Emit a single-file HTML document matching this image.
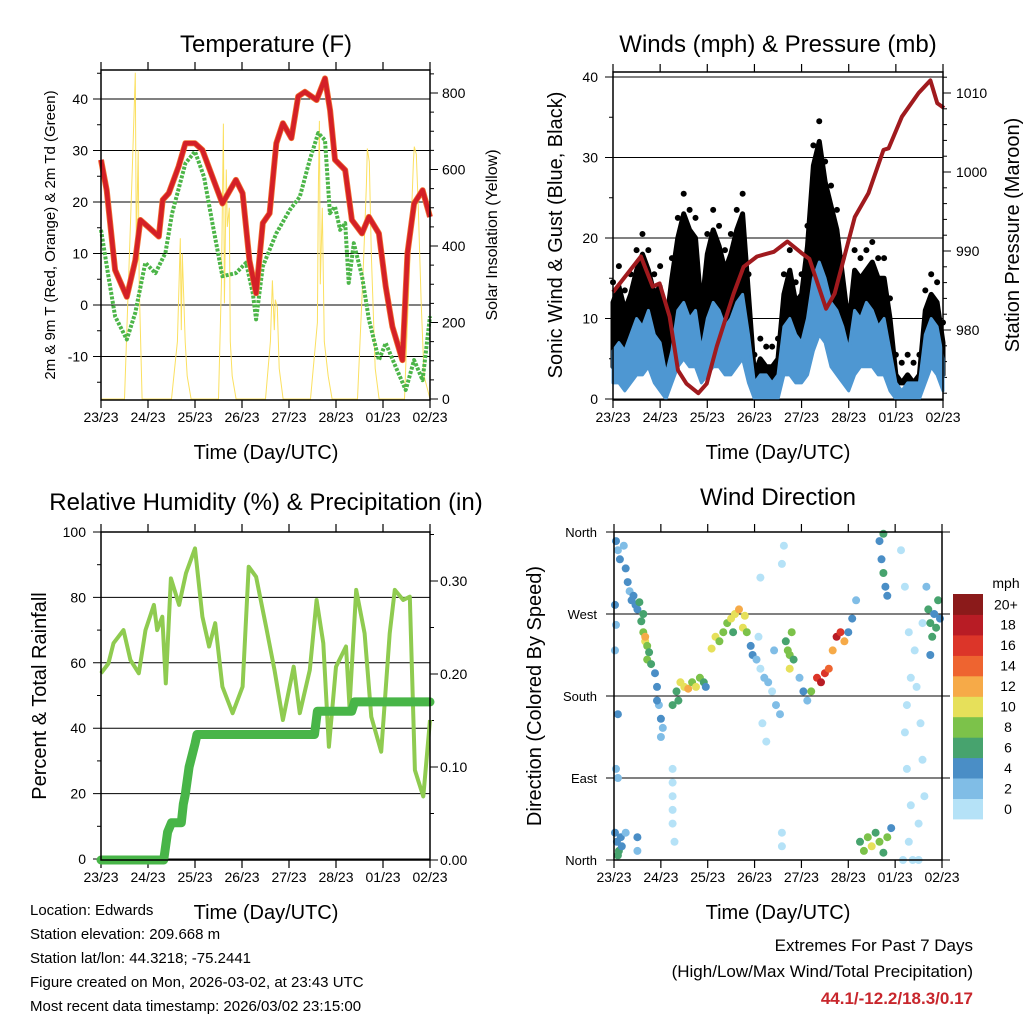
<!DOCTYPE html>
<html><head><meta charset="utf-8"><style>
body{margin:0;background:#fff}
svg text{font-family:"Liberation Sans",sans-serif;fill:#000}
</style></head><body>
<svg id="c" width="1024" height="1024" viewBox="0 0 1024 1024" xmlns="http://www.w3.org/2000/svg"></svg>
<script>
// ===== DATA =====
const dayLabels=["23/23","24/23","25/23","26/23","27/23","28/23","01/23","02/23"];
// Temperature (hour, F)
const tTimes=[0,2.9,7.2,13.2,17.5,20.1,24,29.5,31.5,34.6,39.6,43.1,48,51.8,56.9,62,68.9,72.3,75.8,79.2,82.6,86.1,89.5,92.9,97.2,100.7,104.1,110.1,114.4,117,119.5,124.7,128.1,133.3,136.8,141.9,145.4,148.8,153.9,156.5,159.9,164.2,168];
const tempF=[28.2,22.3,6.8,1.6,8.7,16.5,15.2,13.3,20.4,21.7,26.9,31.4,31.4,30.1,24.9,19.7,24.3,21.7,8.7,2.3,15.9,17.8,31.4,35.3,32.4,40.5,41.4,39.8,44,37.8,28.2,26.2,16.5,13.9,17.1,13.9,3.6,-4.2,-10.7,10.1,19.7,22.3,17.1];
const tdTimes=[0,3.8,7.2,13.2,17.5,22.6,27.8,32.9,36.3,43.1,48,52.6,56.9,62,68.9,74.1,77.5,79.2,82.6,89.5,96.3,101.5,106.6,110.9,114.4,116.9,119.5,122.1,124.7,126.5,129.1,133.3,136.8,141.9,145.4,150.5,155.6,159.9,164.2,168];
const tdF=[14.6,5.6,-2.2,-6.7,-1.5,8.2,6.2,10.1,17.8,27.5,29.8,24.9,15.9,5.6,6.2,8.2,2.3,-2.8,7.5,13.9,18.4,21,28.2,33.4,32,17.8,19.1,14.6,15.9,4.3,12,5.6,-2.8,-10.7,-7.4,-12,-16.5,-10.7,-14.6,-2.2];
const solTimes=[0,12,14,16,17.5,18,19,19.5,21,24,36,39,40.5,41,41.5,43,44,46,60,61.5,62.5,63,64,64.5,65.5,66,67,69,84,86.5,87.5,88.5,89,90,91,93,107,110.5,111,111.5,112,113,114,116,118,131,134,135.5,136,137,138,140,142,155,158,159.5,160,161,162,163.5,165,168];
const solar=[0,0,300,600,853,400,650,300,0,0,0,150,420,180,380,150,60,0,0,300,720,250,600,450,500,150,60,0,0,150,310,180,260,240,80,0,0,200,560,727,300,500,150,60,0,0,350,560,655,620,380,80,0,0,400,620,660,640,500,250,60,0];
// Winds (3-hourly, mph)
const windLo=[2,2,1,2,3,3,4,2, 1,0,2,4,5,4,4,2, 3,4,4,3,3,4,5,2, 0,0,0,0,0,3,3,2, 2,3,6,8,7,4,3,2, 1,3,4,4,4,3,3,1, 0,0,0,0,0,2,4,3,1];
const windHi=[6,7,6,8,10,9,11,8, 7,3,6,11,12,10,11,6, 10,12,11,9,10,12,13,8, 2,3,3,2,3,9,10,8, 7,10,15,17,15,12,11,9, 6,11,10,12,11,9,10,6, 2,1,2,2,2,8,10,9,5];
const gust=[13,15,12,14,17,19,17,14, 15,10,16,21,24,22,21,12, 19,22,20,17,19,22,24,14, 4,6,5,5,6,14,17,13, 14,20,30,33,28,25,22,16, 10,17,16,17,18,16,16,11, 4,3,4,3,4,12,14,13,8];
const pTimes=[0,14.2,20.2,23.7,28.8,33.1,37.4,43.4,47.7,52.8,61.4,66.5,73.3,81.9,88.8,95.7,100,108.5,112.8,123.1,130,137.7,140.3,147.1,155.6,161.6,165.1,168.5];
const pressure=[984.8,989.3,985.5,985.9,981.7,974.9,973.2,972,973.2,977.9,984.6,988,989.3,989.9,991.2,989.8,989,982.7,984.6,994.3,997.3,1002.8,1003,1007,1010,1011.6,1008.7,1008.1];
// RH & precip
const rhTimes=[0,3.8,6.4,11.5,15,19.3,22.7,27,28.7,31.3,33.1,35.7,39.9,43.4,48,51.8,55.2,58.3,62,67.2,72.3,75.4,79.2,84.3,88.6,92.9,98.4,101.5,106.6,110.1,113.5,116.4,120,125.1,126.9,130.3,134.6,138,143.1,147.4,150,154.3,157.7,160.3,164.6,168];
const rh=[56.8,59.8,66,70,60.9,56.8,70,77.7,70,74.1,53.7,85.8,77.7,87.4,95,74.1,65,72.1,52.7,44.6,52.7,89.4,86.3,71,57.8,42.5,58.8,44.6,57.8,79.2,66,34.3,58.8,65,46.6,82.3,69,43.5,32.8,69,82.3,79.2,80.2,27.2,19.1,42.5];
const prTimes=[0,32,34,36,41,42,43,45,48,49,109,110.5,128,129.5,168];
const precip=[0,0,0.03,0.04,0.04,0.06,0.07,0.10,0.125,0.135,0.135,0.16,0.16,0.17,0.17];
// Wind direction [hour, degrees, speed]
const dirObs=[[1,350,4],[2,340,3],[3,330,4],[5,345,3],[6,320,4],[7,305,4],[8,295,3],[9,285,4],[10,290,5],[11,280,4],[12,275,4],[13,283,6],[0.5,280,4],[1,258,3],[0.5,230,3],[2,160,4],[1,100,2],[2,90,3],
[0.5,30,4],[1.5,20,5],[2.5,10,6],[3.5,25,4],[2,5,6],[4,15,5],[6,30,3],[12,25,4],[12,10,3],
[14,262,7],[15,250,8],[16,240,10],[17,235,8],[18,228,7],[17,220,9],[19,215,6],[16,245,12],[15,270,6],
[21,205,4],[22,190,4],[23,170,3],[24,155,4],[25,145,2],[22,175,5],[24,135,3],
[30,85,1],[30,70,1],[30,55,1],[30,40,1],[31,20,1],[30,100,1],
[30,170,6],[32,185,6],[34,195,11],[36,190,10],[38,188,12],[40,195,9],[42,190,11],[44,200,8],[46,195,6],[47,190,4],[33,175,6],
[50,232,10],[52,245,11],[54,240,9],[56,250,8],[58,260,9],[60,265,11],[62,270,10],[64,275,12],[66,255,11],[68,250,8],[67,268,10],[61,250,6],[70,235,4],[71,225,4],
[73,220,2],[75,210,1],[77,200,2],[79,195,3],[81,185,1],[83,170,2],[85,160,3],[76,150,1],[78,130,1],[74,245,1],[75,310,1],[86,325,1],[87,345,1],[86,30,1],[86,15,1],[82,230,3],
[88,240,7],[89,230,8],[90,225,9],[90,210,10],[91,250,8],[92,220,6],
[95,200,3],[97,185,4],[99,175,2],[101,185,9],[104,200,16],[106,195,18],[108,205,17],[110,210,15],
[112,230,13],[114,245,18],[116,250,16],[118,240,12],[120,250,4],[122,265,4],[124,285,2],
[126,20,7],[128,10,9],[130,25,8],[132,15,10],[134,30,7],[136,20,9],[138,8,6],[140,25,8],[142,35,4],
[136,350,4],[137,330,5],[138,315,6],[139,300,5],[140,290,4],[138,358,6],
[147,340,1],[149,300,1],[151,250,1],[152,200,1],[150,170,1],[149,140,1],[150,100,1],[152,60,1],[151,20,1],[148,0,1],[155,190,1],[157,150,1],[158,110,1],[159,70,1],[156,40,1],[154,230,1],[160,300,2],[158,260,1],[153,0,1],[156,0,1],
[161,275,6],[162,260,7],[163,245,6],[164,270,5],[165,255,7],[166,285,6],[167,265,5],[162,225,5]];
const speedColors=["#b5e2f7","#80bde6","#4a8ec6","#47a36e","#7cc24a","#e6e05a","#f6aa48","#ee6430","#dc3529","#b81c25","#8b1a1a"];
const speedLabels=["0","2","4","6","8","10","12","14","16","18","20+"];

// ===== HELPERS =====
const svg=document.getElementById('c');
const NS="http://www.w3.org/2000/svg";
function mk(tag,attrs,parent){const e=document.createElementNS(NS,tag);for(const k in attrs)e.setAttribute(k,attrs[k]);(parent||svg).appendChild(e);return e;}
function txt(s,x,y,size,anchor,parent,rot,extra){const t=mk('text',Object.assign({x:x,y:y,'font-size':size,'text-anchor':anchor||'middle'},extra||{}),parent);if(rot)t.setAttribute('transform','rotate(-90 '+x+' '+y+')');t.textContent=s;return t;}
function lin(d0,d1,r0,r1){return v=>r0+(v-d0)*(r1-r0)/(d1-d0);}
function pts(xs,ys,fx,fy){return xs.map((x,i)=>fx(x).toFixed(1)+','+fy(ys[i]).toFixed(1)).join(' ');}

function panel(name,L,T,R,B){
  const g=mk('g',{},svg);
  
  
  const fx=lin(0,168,L,R);
  for(let d=0;d<=7;d++){const x=fx(d*24);
    mk('line',{x1:x,y1:B,x2:x,y2:B+8,stroke:'#000','stroke-width':1.2},g);
    mk('line',{x1:x,y1:T,x2:x,y2:T-8,stroke:'#000','stroke-width':1.2},g);
    const t=txt(dayLabels[d],x,B+22,14,'middle',g);
    
    
  }
  return {g,fx};
}
function box(g,L,T,R,B){mk('rect',{x:L,y:T,width:R-L,height:B-T,fill:'none',stroke:'#000','stroke-width':1.5},g);}
function xlabel(g,cx,y){const t=txt('Time (Day/UTC)',cx,y,20,'middle',g);}

// ===== PANEL 1: Temperature =====
(function(){
  const L=101,T=70,R=430,B=400;
  const {g,fx}=panel('temperature-panel',L,T,R,B);
  const fy=lin(0,10,305,253.5);
  const fs=lin(0,800,399,93);
  for(let v=-10;v<=40;v+=10){const y=fy(v);mk('line',{x1:L-8,y1:y,x2:R,y2:y,stroke:'#000','stroke-width':1},g);txt(String(v),88,y+5,14,'end',g);}
  for(let v=-15;v<=45;v+=10){const y=fy(v);mk('line',{x1:L-4,y1:y,x2:L,y2:y,stroke:'#000'},g);}
  for(let v=0;v<=800;v+=200){const y=fs(v);mk('line',{x1:R,y1:y,x2:R+8,y2:y,stroke:'#000'},g);txt(String(v),442,y+5,14,'start',g);}
  for(let v=50;v<=850;v+=50){if(v%200){const y=fs(v);mk('line',{x1:R,y1:y,x2:R+4,y2:y,stroke:'#000'},g);}}
  const sol=mk('polyline',{points:pts(solTimes,solar,fx,fs),fill:'none',stroke:'#fbe060','stroke-width':1},g);
  
  const td=mk('polyline',{points:pts(tdTimes,tdF,fx,fy),fill:'none',stroke:'#4cb548','stroke-width':4,'stroke-dasharray':'3 1.5','stroke-linejoin':'round'},g);
  
  const t9=mk('polyline',{points:pts(tTimes,tempF,fx,fy),fill:'none',stroke:'#f07030','stroke-width':6,'stroke-linejoin':'round'},g);
  
  const t2=mk('polyline',{points:pts(tTimes,tempF,fx,fy),fill:'none',stroke:'#d42027','stroke-width':4.5,'stroke-linejoin':'round'},g);
  
  box(g,L,T,R,B);
  txt('Temperature (F)',266,52,24,'middle',g);
  txt('2m & 9m T (Red, Orange) & 2m Td (Green)',55,235,15,'middle',g,true);
  txt('Solar Insolation (Yellow)',497,235,16,'middle',g,true);
  xlabel(g,266,459);
})();

// ===== PANEL 2: Winds & pressure =====
(function(){
  const L=613,T=72,R=943,B=400;
  const {g,fx}=panel('winds-panel',L,T,R,B);
  const fy=lin(0,40,399,77);
  const fp=lin(980,1010,330,93);
  for(let v=0;v<=40;v+=10){const y=fy(v);mk('line',{x1:L-8,y1:y,x2:R,y2:y,stroke:'#000','stroke-width':1},g);txt(String(v),598,y+5,14,'end',g);}
  for(let v=5;v<=35;v+=10){const y=fy(v);mk('line',{x1:L-4,y1:y,x2:L,y2:y,stroke:'#000'},g);}
  for(let v=980;v<=1010;v+=10){const y=fp(v);mk('line',{x1:R,y1:y,x2:R+8,y2:y,stroke:'#000'},g);txt(String(v),956,y+5,14,'start',g);}
  for(let v=972;v<=1012;v+=2){if(v%10){const y=fp(v);mk('line',{x1:R,y1:y,x2:R+4,y2:y,stroke:'#000'},g);}}
  const hrs=windHi.map((_,i)=>i*3);
  const gp=hrs.map((h,i)=>fx(h).toFixed(1)+','+fy(gust[i]-1).toFixed(1)).concat(hrs.slice().reverse().map((h,j)=>{const i=hrs.length-1-j;return fx(h).toFixed(1)+','+fy(windLo[i]+2).toFixed(1);})).join(' ');
  const gc=mk('polygon',{points:gp,fill:'#000',stroke:'#000','stroke-width':5,'stroke-linejoin':'round'},g);
  
  hrs.forEach((h,i)=>{const c=mk('circle',{cx:fx(h),cy:fy(gust[i]+1.5),r:3,fill:'#000'},g);});
  const bp=hrs.map((h,i)=>fx(h).toFixed(1)+','+fy(windHi[i]).toFixed(1)).concat(hrs.slice().reverse().map((h,j)=>{const i=hrs.length-1-j;return fx(h).toFixed(1)+','+fy(windLo[i]).toFixed(1);})).join(' ');
  const bc=mk('polygon',{points:bp,fill:'#4e97d2',stroke:'#4e97d2','stroke-width':3,'stroke-linejoin':'round'},g);
  
  const pl=mk('polyline',{points:pts(pTimes,pressure,fx,fp),fill:'none',stroke:'#a01a1e','stroke-width':4,'stroke-linejoin':'round'},g);
  
  box(g,L,T,R,B);
  txt('Winds (mph) & Pressure (mb)',778,52,24,'middle',g);
  txt('Sonic Wind & Gust (Blue, Black)',562,235,20,'middle',g,true);
  txt('Station Pressure (Maroon)',1019,235,20,'middle',g,true);
  xlabel(g,778,459);
})();

// ===== PANEL 3: RH & precipitation =====
(function(){
  const L=101,T=532,R=430,B=860;
  const {g,fx}=panel('humidity-panel',L,T,R,B);
  const fy=lin(0,100,859,532);
  const fr=lin(0,0.1,860,767);
  for(let v=0;v<=100;v+=20){const y=fy(v);mk('line',{x1:L-8,y1:y,x2:R,y2:y,stroke:'#000','stroke-width':1},g);txt(String(v),86,y+5,14,'end',g);}
  for(let v=10;v<=90;v+=20){const y=fy(v);mk('line',{x1:L-4,y1:y,x2:L,y2:y,stroke:'#000'},g);}
  for(let v=0;v<=0.3001;v+=0.1){const y=fr(v);mk('line',{x1:R,y1:y,x2:R+8,y2:y,stroke:'#000'},g);txt(v.toFixed(2),440,y+5,14,'start',g);}
  for(let v=0.05;v<=0.35;v+=0.05){const y=fr(v);mk('line',{x1:R,y1:y,x2:R+4,y2:y,stroke:'#000'},g);}
  const r=mk('polyline',{points:pts(rhTimes,rh,fx,fy),fill:'none',stroke:'#8fcb50','stroke-width':4,'stroke-linejoin':'round'},g);
  
  const p=mk('polyline',{points:pts(prTimes,precip,fx,fr),fill:'none',stroke:'#48b548','stroke-width':9,'stroke-linejoin':'round','stroke-linecap':'round'},g);
  
  box(g,L,T,R,B);
  txt('Relative Humidity (%) & Precipitation (in)',266,510,24,'middle',g);
  txt('Percent & Total Rainfall',46,696,20,'middle',g,true);
  xlabel(g,266,919);
})();

// ===== PANEL 4: Wind direction =====
(function(){
  const L=614,T=532,R=942,B=860;
  const {g,fx}=panel('wind-direction-panel',L,T,R,B);
  const fy=lin(0,360,860,532);
  const names=['North','East','South','West','North'];
  for(let i=0;i<5;i++){const y=fy(i*90);mk('line',{x1:L-8,y1:y,x2:R+8,y2:y,stroke:'#000','stroke-width':1},g);txt(names[i],597,y+5,13,'end',g);}
  dirObs.forEach(o=>{const c=mk('circle',{cx:fx(o[0]).toFixed(1),cy:fy(o[1]).toFixed(1),r:4,fill:speedColors[Math.min(10,Math.floor(o[2]/2))]},g);
    });
  box(g,L,T,R,B);
  txt('Wind Direction',778,505,24,'middle',g);
  txt('Direction (Colored By Speed)',541,696,20,'middle',g,true);
  xlabel(g,778,919);
  const cb=mk('g',{},svg);
  
  const bh=20.45;
  for(let i=0;i<11;i++){mk('rect',{x:953,y:(819-(i+1)*bh).toFixed(1),width:30,height:(bh+0.5).toFixed(1),fill:speedColors[i]},cb);
    const t=txt(speedLabels[i],i==10?994:1008,819-i*bh-bh/2+5,14,i==10?'start':'middle',cb);}
  txt('mph',1006,588,14,'middle',cb);
})();

// ===== Footer text =====
const info=["Location: Edwards","Station elevation: 209.668 m","Station lat/lon: 44.3218; -75.2441","Figure created on Mon, 2026-03-02, at 23:43 UTC","Most recent data timestamp: 2026/03/02 23:15:00"];
info.forEach((s,i)=>{const t=txt(s,30,915+i*24,15,'start');});
const e1=txt('Extremes For Past 7 Days',973,951,17,'end');
const e2=txt('(High/Low/Max Wind/Total Precipitation)',973,977,17,'end');
const e3=txt('44.1/-12.2/18.3/0.17',973,1004,17,'end',null,false,{'font-weight':'bold',style:'fill:#c8262c'});
</script>
</body></html>
